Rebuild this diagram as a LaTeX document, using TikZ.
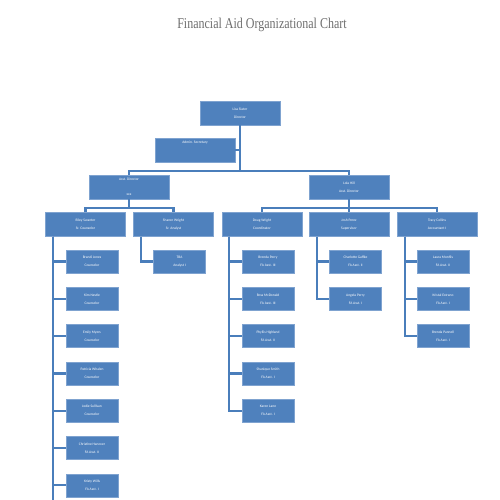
\documentclass[tikz,border=0pt]{standalone}
\usepackage{fontspec}
\setmainfont{Liberation Serif}
\newfontfamily\boxfont{Carlito}
\usepackage{xcolor}
\definecolor{boxblue}{HTML}{4F81BD}
\definecolor{edgeblue}{HTML}{7FA3D0}
\definecolor{lineblue}{HTML}{4A7EBB}
\definecolor{titlegray}{HTML}{6E6E6E}

\tikzset{
  box/.style={fill=boxblue, draw=edgeblue, line width=0.6pt, text=white,
    minimum width=80pt, minimum height=24pt, inner sep=0pt, align=center,
    font=\boxfont\fontsize{3.6}{8}\selectfont},
  staff/.style={box, minimum width=52pt, minimum height=23pt},
  link/.style={draw=lineblue, line width=2.2pt}
}

\begin{document}
\begin{tikzpicture}[x=1pt,y=-1pt]
      \useasboundingbox (0,0) rectangle (500,500);

      % Title
      \node[text=titlegray, font=\fontsize{15}{18}\selectfont] (title) at (262,25)
        {\scalebox{0.8}[1]{Financial Aid Organizational Chart}};

      % Director and secretary
      \node[box] (dir) at (240,113) {Lisa Slater\\Director};
      \node[box] (admin) at (195,150) {Admin. Secretary\\ \\};

      % Assistant directors
      \node[box] (adL) at (129,187) {Asst. Director\\[7pt]xxx};
      \node[box] (adR) at (349,187) {Lola Hill\\Asst. Director};

      % Second level
      \node[box] (riley) at (85.5,224.5) {Riley Swanter\\Sr. Counselor};
      \node[box] (sharon) at (173.5,224.5) {Sharon Wright\\Sr. Analyst};
      \node[box] (doug) at (262,224.5) {Doug Wright\\Coordinator};
      \node[box] (josh) at (349,224.5) {Josh Perez\\Supervisor};
      \node[box] (tracy) at (437,224.5) {Tracy Collins\\Accountant I};

      % Counselors
      \node[staff] (brandi) at (92,261.5) {Brandi Jones\\Counselor};
      \node[staff] (kim) at (92,298.8) {Kim Nestle\\Counselor};
      \node[staff] (emily) at (92,336.1) {Emily Myers\\Counselor};
      \node[staff] (patricia) at (92,373.4) {Patricia Whalen\\Counselor};
      \node[staff] (jodie) at (92,410.7) {Jodie Sullivan\\Counselor};
      \node[staff] (christine) at (92,448) {Christine Hanover\\FA Asst. II};
      \node[staff] (kristy) at (92,485.3) {Kristy Wills\\FA Asst. I};

      % Analyst
      \node[staff] (tba) at (179.5,261.5) {TBA\\Analyst I};

      % Coordinator staff
      \node[staff] (brenda) at (268,261.5) {Brenda Perry\\FA Asst. III};
      \node[staff] (ross) at (268,298.8) {Ross McDonald\\FA Asst. III};
      \node[staff] (phyllis) at (268,336.1) {Phyllis Highland\\FA Asst. II};
      \node[staff] (shanique) at (268,373.4) {Shanique Smith\\FA Asst. I};
      \node[staff] (karen) at (268,410.7) {Karen Lane\\FA Asst. I};

      % Supervisor staff
      \node[staff] (charlotte) at (355.5,261.5) {Charlotte Gaffke\\FA Asst. II};
      \node[staff] (angela) at (355.5,298.8) {Angela Perry\\FA Asst. I};

      % Accountant staff
      \node[staff] (laura) at (443,261.5) {Laura Monfils\\FA Asst. II};
      \node[staff] (kristal) at (443,298.8) {Kristal Estrano\\FA Asst. I};
      \node[staff] (pannell) at (443,336.1) {Brenda Pannell\\FA Asst. I};

      % Hubs and rails
      \coordinate (hubTop) at (240,171);
      \coordinate (hubL) at (129,208);
      \coordinate (hubR) at (349,208);
      \coordinate (railRiley) at (53,236.5);
      \coordinate (railRileyEnd) at (53,500);
      \coordinate (railSharon) at (141,236.5);
      \coordinate (railDoug) at (229,236.5);
      \coordinate (railJosh) at (317,236.5);
      \coordinate (railTracy) at (405,236.5);

      % Top links
      \draw[link] (dir.south) -- (hubTop);
      \draw[link] (admin.east) -- (admin.east -| dir.south);
      \draw[link] (adL.north) |- (hubTop) -| (adR.north);

      \draw[link] (adL.south) -- (hubL);
      \draw[link] (riley.north) |- (hubL) -| (sharon.north);

      \draw[link] (adR.south) -- (hubR);
      \draw[link] (doug.north) |- (hubR) -| (tracy.north);
      \draw[link] (josh.north) -- (hubR);

      % Counselor links
      \draw[link] (railRiley) -- (railRileyEnd);
      \draw[link] (railRiley) |- (brandi.west);
      \draw[link] (railRiley) |- (kim.west);
      \draw[link] (railRiley) |- (emily.west);
      \draw[link] (railRiley) |- (patricia.west);
      \draw[link] (railRiley) |- (jodie.west);
      \draw[link] (railRiley) |- (christine.west);
      \draw[link] (railRiley) |- (kristy.west);

      \draw[link] (railSharon) |- (tba.west);

      \draw[link] (railDoug) |- (brenda.west);
      \draw[link] (railDoug) |- (ross.west);
      \draw[link] (railDoug) |- (phyllis.west);
      \draw[link] (railDoug) |- (shanique.west);
      \draw[link] (railDoug) |- (karen.west);

      \draw[link] (railJosh) |- (charlotte.west);
      \draw[link] (railJosh) |- (angela.west);

      \draw[link] (railTracy) |- (laura.west);
      \draw[link] (railTracy) |- (kristal.west);
      \draw[link] (railTracy) |- (pannell.west);
\end{tikzpicture}
\end{document}
